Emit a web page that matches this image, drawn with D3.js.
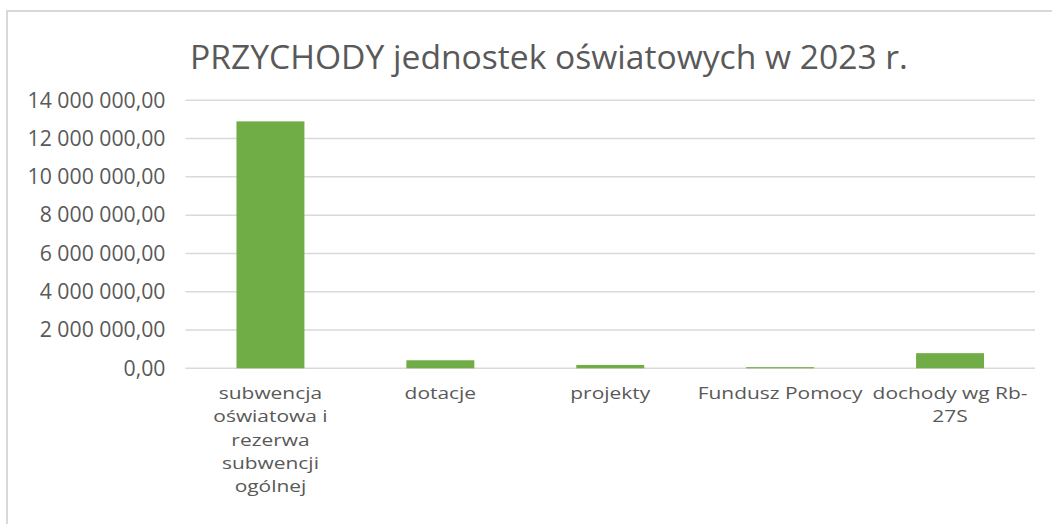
<!DOCTYPE html>
<html>
<head>
<meta charset="utf-8">
<script src="https://cdn.jsdelivr.net/npm/d3@7"></script>
<style>
  html, body { margin: 0; padding: 0; background: #ffffff; }
  svg { display: block; }
  text { font-family: "Open Sans", "Noto Sans", sans-serif; fill: #595959; }
</style>
</head>
<body>
<svg id="chart" width="1052" height="524"></svg>
<script>
// ---- data ----
const title = "PRZYCHODY jednostek oświatowych w 2023 r.";
const categories = [
  "subwencja oświatowa i rezerwa subwencji ogólnej",
  "dotacje",
  "projekty",
  "Fundusz Pomocy",
  "dochody wg Rb-27S"
];
const categoryLines = [
  ["subwencja", "oświatowa i", "rezerwa", "subwencji", "ogólnej"],
  ["dotacje"],
  ["projekty"],
  ["Fundusz Pomocy"],
  ["dochody wg Rb-", "27S"]
];
const values = [12900000, 420000, 175000, 60000, 790000];
const yTicks = [0, 2000000, 4000000, 6000000, 8000000, 10000000, 12000000, 14000000];

// ---- layout ----
const W = 1052, H = 524;
const plot = { left: 185.5, right: 1035, top: 100.3, bottom: 368.3 };

const svg = d3.select("#chart");

// chart border (top and left edges visible)
svg.append("path")
  .attr("d", `M7,${H} L7,11 L${W},11`)
  .attr("fill", "none")
  .attr("stroke", "#d9d9d9")
  .attr("stroke-width", 2);

const x = d3.scaleBand()
  .domain(categories)
  .range([plot.left, plot.right])
  .paddingInner(0.6)
  .paddingOuter(0.3);

const y = d3.scaleLinear()
  .domain([0, 14000000])
  .range([plot.bottom, plot.top]);

const fmt = v => {
  const s = d3.format(",.2f")(v);
  return s.replace(/,/g, " ").replace(".", ",");
};

// gridlines
svg.append("g")
  .selectAll("line")
  .data(yTicks)
  .join("line")
  .attr("x1", plot.left)
  .attr("x2", plot.right)
  .attr("y1", d => y(d))
  .attr("y2", d => y(d))
  .attr("stroke", "#d9d9d9")
  .attr("stroke-width", 1.5);

// y axis labels
const yAxis = svg.append("g")
  .attr("transform", `translate(${plot.left},0)`)
  .call(d3.axisLeft(y).tickValues(yTicks).tickFormat(fmt).tickSize(0).tickPadding(20));
yAxis.select(".domain").remove();
yAxis.attr("font-size", null).attr("font-family", null);
yAxis.selectAll("text")
  .style("font-family", '"Open Sans", "Noto Sans", sans-serif')
  .style("fill", "#595959")
  .style("font-size", "18px");

// fit y label font size to target width
(function () {
  const t = yAxis.selectAll("text").filter(d => d === 14000000).node();
  const w = t.getComputedTextLength();
  const fs = 18 * 138 / w;
  yAxis.selectAll("text").style("font-size", fs + "px");
})();

// bars
svg.append("g")
  .selectAll("rect")
  .data(values)
  .join("rect")
  .attr("x", (d, i) => x(categories[i]))
  .attr("width", x.bandwidth())
  .attr("y", d => y(d))
  .attr("height", d => y(0) - y(d))
  .attr("fill", "#70ad47");

// x labels (horizontally stretched to match the reference's wide face)
const xl = svg.append("g");
const lineH = 23.3;
const texts = categories.map((c, i) => {
  const cx = x(c) + x.bandwidth() / 2;
  const t = xl.append("text")
    .attr("text-anchor", "middle")
    .attr("transform", `translate(${cx},0)`)
    .style("font-size", "16.5px");
  categoryLines[i].forEach((ln, j) => {
    t.append("tspan")
      .attr("x", 0)
      .attr("y", 399 + j * lineH)
      .text(ln);
  });
  return { t, cx };
});
(function () {
  const w = texts[3].t.node().getComputedTextLength();
  const k = 165 / w;
  texts.forEach(o => o.t.attr("transform", `translate(${o.cx},0) scale(${k},1)`));
})();

// title
const tt = svg.append("text")
  .attr("text-anchor", "middle")
  .attr("x", 549)
  .attr("y", 69)
  .style("font-size", "28px")
  .text(title);
(function () {
  const w = tt.node().getComputedTextLength();
  tt.style("font-size", (28 * 718 / w) + "px");
})();
</script>
</body>
</html>
